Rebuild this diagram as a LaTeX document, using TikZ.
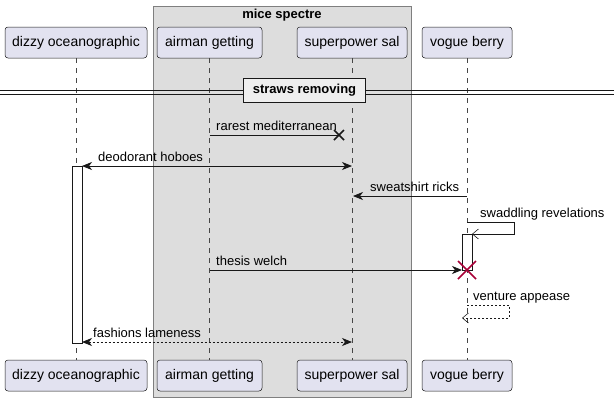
\documentclass[tikz,border=0pt]{standalone}
\usepackage{fontspec}
\setmainfont{Liberation Sans}
\usetikzlibrary{arrows.meta}
\definecolor{partfill}{HTML}{E2E2F0}
\definecolor{ink}{HTML}{181818}
\definecolor{grpfill}{HTML}{DDDDDD}
\definecolor{grpline}{HTML}{7F7F7F}
\definecolor{xred}{HTML}{A80036}
\definecolor{divfill}{HTML}{EEEEEE}
\begin{document}
\begin{tikzpicture}[x=1pt,y=-1pt,
  part/.style={draw=ink, fill=partfill, rounded corners=3pt, line width=0.5pt,
    minimum height=31pt, inner sep=0pt, font=\fontsize{14}{16}\selectfont},
  msg/.style={font=\fontsize{13}{15}\selectfont, anchor=base west, inner sep=0pt},
  life/.style={draw=ink!80, line width=0.5pt, dash pattern=on 5pt off 5pt},
  act/.style={draw=ink, fill=white, line width=0.8pt},
  sync/.style={draw=ink, line width=0.8pt, -{Stealth[length=10pt,width=8pt,inset=3pt]}},
  bisync/.style={draw=ink, line width=0.8pt, {Stealth[length=10pt,width=8pt,inset=3pt]}-{Stealth[length=10pt,width=8pt,inset=3pt]}},
  async/.style={draw=ink, line width=0.8pt, -{Straight Barb[length=6pt,width=10pt,line width=0.6pt]}},
  ret/.style={dash pattern=on 2pt off 2pt},
  cross/.style={line width=1.5pt, line cap=butt}
]
\useasboundingbox (0,0) rectangle (614,402);
% group
\draw[fill=grpfill, draw=grpline, line width=0.8pt] (153,6) rectangle (411,397);
\node[font=\bfseries\fontsize{13}{15}\selectfont, inner sep=0pt] (grp) at (282,15) {mice spectre};
% participants
\node[part, minimum width=142pt] (d1) at (76,42.5) {dizzy oceanographic};
\node[part, minimum width=105pt] (a1) at (209.5,42.5) {airman getting};
\node[part, minimum width=110pt] (s1) at (352,42.5) {superpower sal};
\node[part, minimum width=90pt] (v1) at (467,42.5) {vogue berry};
\node[part, minimum width=142pt] (d2) at (76,375.5) {dizzy oceanographic};
\node[part, minimum width=105pt] (a2) at (209.5,375.5) {airman getting};
\node[part, minimum width=110pt] (s2) at (352,375.5) {superpower sal};
\node[part, minimum width=90pt] (v2) at (467,375.5) {vogue berry};
% lifelines
\draw[life] (d1.south) -- (d2.north);
\draw[life] (a1.south) -- (a2.north);
\draw[life] (s1.south) -- (s2.north);
\draw[life] (v1.south) -- (v2.north);
% divider
\coordinate (dl) at (0,92);
\coordinate (dr) at (614,92);
\draw[ink, line width=0.8pt] ([yshift=-2pt]dl) -- ([yshift=-2pt]dr);
\draw[ink, line width=0.8pt] ([yshift=2pt]dl) -- ([yshift=2pt]dr);
\node[draw=ink, fill=divfill, line width=1.6pt, minimum width=122pt, minimum height=24pt, inner sep=0pt,
  font=\bfseries\fontsize{13}{15}\selectfont] (div) at (304.5,90.5) {straws removing};
% coordinates
\coordinate (m1a) at (209.5,135); \coordinate (m1b) at (339,135);
\coordinate (m2a) at (82,166);   \coordinate (m2b) at (352,166);
\coordinate (m3a) at (467,196);  \coordinate (m3b) at (353,196);
\coordinate (m4a) at (467,222);  \coordinate (m4c) at (514,222); \coordinate (m4d) at (514,234); \coordinate (m4b) at (472,234);
\coordinate (m5a) at (209.5,270); \coordinate (m5b) at (462,270); \coordinate (m5x) at (467,270);
\coordinate (m6a) at (467,305);  \coordinate (m6c) at (509,305); \coordinate (m6d) at (509,318); \coordinate (m6b) at (462,318);
\coordinate (m7a) at (82,342);   \coordinate (m7b) at (352,342);
% activations
\draw[act] (72,166) rectangle (82,343);
\draw[act] (462,234) rectangle (472,270);
% messages
\draw[ink, line width=0.8pt] (m1a) -- (m1b);
\draw[ink, cross] ([shift={(-5,-5)}]m1b) -- ([shift={(5,5)}]m1b);
\draw[ink, cross] ([shift={(-5,5)}]m1b) -- ([shift={(5,-5)}]m1b);
\node[msg] (t1) at (216,130) {rarest mediterranean};
\draw[bisync] (m2a) -- (m2b);
\node[msg] (t2) at (98,161) {deodorant hoboes};
\draw[sync] (m3a) -- (m3b);
\node[msg] (t3) at (370,191) {sweatshirt ricks};
\draw[async] (m4a) -- (m4c) -- (m4d) -- (m4b);
\node[msg] (t4) at (480,217) {swaddling revelations};
\draw[sync] (m5a) -- (m5b);
\draw[xred, cross] ([shift={(-9,-9)}]m5x) -- ([shift={(9,9)}]m5x);
\draw[xred, cross] ([shift={(-9,9)}]m5x) -- ([shift={(9,-9)}]m5x);
\node[msg] (t5) at (216,265) {thesis welch};
\draw[async, ret] (m6a) -- (m6c) -- (m6d) -- (m6b);
\node[msg] (t6) at (473,300) {venture appease};
\draw[bisync, ret] (m7a) -- (m7b);
\node[msg] (t7) at (93,337) {fashions lameness};
\end{tikzpicture}
\end{document}
